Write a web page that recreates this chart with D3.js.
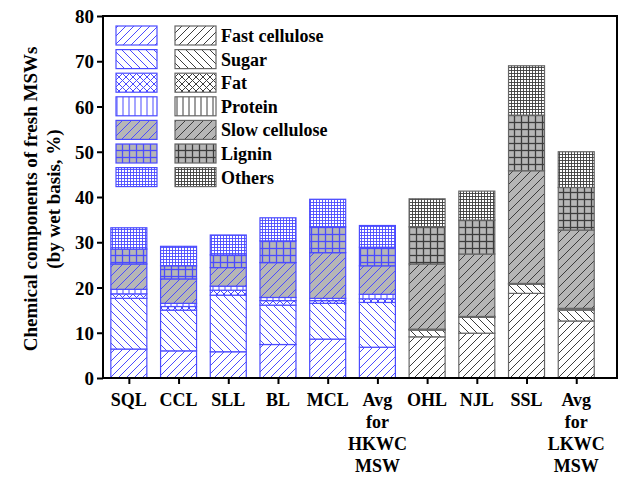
<!DOCTYPE html>
<html>
<head>
<meta charset="utf-8">
<script src="https://cdn.jsdelivr.net/npm/d3@7"></script>
<style>
  body { margin: 0; background: #fff; }
  text { font-family: "Liberation Serif", "Times New Roman", serif; font-weight: bold; }
</style>
</head>
<body>
<svg id="chart" width="638" height="477"></svg>
<script>
// categories, in order; the first six are HKWC (blue), the rest LKWC (gray)
let categories = ["SQL", "CCL", "SLL", "BL", "MCL", "Avg for HKWC MSW", "OHL", "NJL", "SSL", "Avg for LKWC MSW"];
let groups = ["blue", "blue", "blue", "blue", "blue", "blue", "gray", "gray", "gray", "gray"];
let components = ["Fast cellulose", "Sugar", "Fat", "Protein", "Slow cellulose", "Lignin", "Others"];

// values, %
let fastCellulose = [6.4, 6.0, 5.8, 7.4, 8.6, 6.8, 9.1, 9.9, 18.7, 12.6];
let sugar         = [11.2, 9.0, 12.5, 8.7, 7.9, 9.9, 1.5, 3.5, 2.0, 2.4];
let fat           = [1.0, 0.8, 1.1, 1.0, 0.6, 0.8, 0.1, 0.1, 0.1, 0.2];
let protein       = [1.0, 0.7, 0.9, 0.7, 0.5, 1.0, 0.1, 0.1, 0.1, 0.2];
let slowCellulose = [5.6, 5.4, 4.1, 7.7, 10.1, 6.3, 14.4, 13.8, 24.9, 17.3];
let lignin        = [3.3, 2.9, 2.8, 4.8, 5.7, 4.1, 8.2, 7.5, 12.3, 9.4];
let others        = [4.7, 4.3, 4.4, 5.1, 6.1, 4.8, 6.2, 6.4, 10.9, 7.9];

let yTicks = [0, 10, 20, 30, 40, 50, 60, 70, 80];

let series = [fastCellulose, sugar, fat, protein, slowCellulose, lignin, others];
let keys = ["fast", "sugar", "fat", "protein", "slow", "lignin", "others"];

let colors = { blue: "#4b4bff", gray: "#3c3c3c" };
let edge = { blue: "#4b4bff", gray: "#666" };
let grayFill = "#b6b6b6";

let svg = d3.select("#chart");
let margin = { left: 103, right: 617, top: 16, bottom: 378 };

let x = d3.scaleLinear().domain([-0.52, 9.82]).range([margin.left, margin.right]);
let y = d3.scaleLinear().domain([0, 80]).range([margin.bottom, margin.top]);

// hatch patterns, one set per colour group
let defs = svg.append("defs");
function makePatterns(g) {
  let c = colors[g];
  let add = (id, size, bg, lines, w) => {
    let pat = defs.append("pattern")
      .attr("id", id + "-" + g)
      .attr("patternUnits", "userSpaceOnUse")
      .attr("width", size).attr("height", size);
    pat.append("rect").attr("width", size).attr("height", size).attr("fill", bg);
    lines.forEach(d => pat.append("path").attr("d", d)
      .attr("stroke", c).attr("stroke-width", w || 1).attr("fill", "none"));
  };
  add("fast", 8, "#fff", ["M0,8 L8,0", "M-2,2 L2,-2", "M6,10 L10,6"]);
  add("sugar", 8, "#fff", ["M0,0 L8,8", "M-2,6 L2,10", "M6,-2 L10,2"]);
  add("fat", 7, "#fff", ["M0,7 L7,0", "M0,0 L7,7", "M-1,1 L1,-1", "M6,8 L8,6", "M-1,6 L1,8", "M6,-1 L8,1"]);
  add("protein", 6, "#fff", ["M3,0 L3,6"]);
  add("slow", 9, grayFill, ["M0,9 L9,0", "M-2,2 L2,-2", "M7,11 L11,7"]);
  add("lignin", 7, grayFill, ["M3.5,0 L3.5,7", "M0,3.5 L7,3.5"], 1.3);
  add("others", 3, "#fff", ["M1.5,0 L1.5,3", "M0,1.5 L3,1.5"], 0.9);
}
makePatterns("blue");
makePatterns("gray");

// stacked data
let stackData = categories.map((c, i) => {
  let row = { cat: c, i: i, group: groups[i] };
  keys.forEach((k, j) => row[k] = series[j][i]);
  return row;
});
let stack = d3.stack().keys(keys)(stackData);

let barW = 36;
let layers = svg.append("g");
stack.forEach(layer => {
  layers.selectAll(null)
    .data(layer).enter()
    .append("rect")
    .attr("x", d => x(d.data.i) - barW / 2)
    .attr("width", barW)
    .attr("y", d => y(d[1]))
    .attr("height", d => y(d[0]) - y(d[1]))
    .attr("fill", d => "url(#" + layer.key + "-" + d.data.group + ")")
    .attr("stroke", d => edge[d.data.group])
    .attr("stroke-width", 1.2);
});

// frame
svg.append("rect")
  .attr("x", margin.left).attr("y", margin.top)
  .attr("width", margin.right - margin.left)
  .attr("height", margin.bottom - margin.top)
  .attr("fill", "none").attr("stroke", "#000").attr("stroke-width", 2);

// y axis
let yAxis = svg.append("g")
  .attr("transform", `translate(${margin.left},0)`)
  .call(d3.axisLeft(y).tickValues(yTicks).tickSize(6).tickPadding(3));
yAxis.select(".domain").remove();
yAxis.selectAll("line").attr("stroke-width", 2);
yAxis.selectAll("text").style("font-size", "19px").attr("fill", "#000").attr("dy", "0.35em");

// x axis
let xAxis = svg.append("g")
  .attr("transform", `translate(0,${margin.bottom})`)
  .call(d3.axisBottom(x).tickValues(d3.range(categories.length)).tickSize(6).tickFormat(""));
xAxis.select(".domain").remove();
xAxis.selectAll("line").attr("stroke-width", 2);

let xl = svg.append("g").selectAll("text")
  .data(categories).enter()
  .append("text")
  .attr("text-anchor", "middle")
  .style("font-size", "18px")
  .attr("y", 406);
xl.each(function(d, i) {
  let t = d3.select(this);
  d.split(" ").forEach((w, k) => {
    t.append("tspan").attr("x", x(i)).attr("y", 406 + k * 22).text(w);
  });
});

// axis title
let title = svg.append("text")
  .attr("transform", "translate(38,199) rotate(-90)")
  .attr("text-anchor", "middle")
  .style("font-size", "19px");
title.append("tspan").attr("x", 0).attr("y", -1).text("Chemical components of fresh MSWs");
title.append("tspan").attr("x", 0).attr("y", 22).text("(by wet basis, %)");

// legend
let legend = svg.append("g");
components.forEach((name, k) => {
  let top = 26 + k * 23.6;
  legend.append("rect")
    .attr("x", 116).attr("y", top).attr("width", 41).attr("height", 19)
    .attr("fill", "url(#" + keys[k] + "-blue)")
    .attr("stroke", edge.blue).attr("stroke-width", 1.2);
  legend.append("rect")
    .attr("x", 175).attr("y", top).attr("width", 41).attr("height", 19)
    .attr("fill", "url(#" + keys[k] + "-gray)")
    .attr("stroke", edge.gray).attr("stroke-width", 1.2);
  legend.append("text")
    .attr("x", 221).attr("y", top + 16)
    .style("font-size", "18px")
    .text(name);
});
</script>
</body>
</html>
